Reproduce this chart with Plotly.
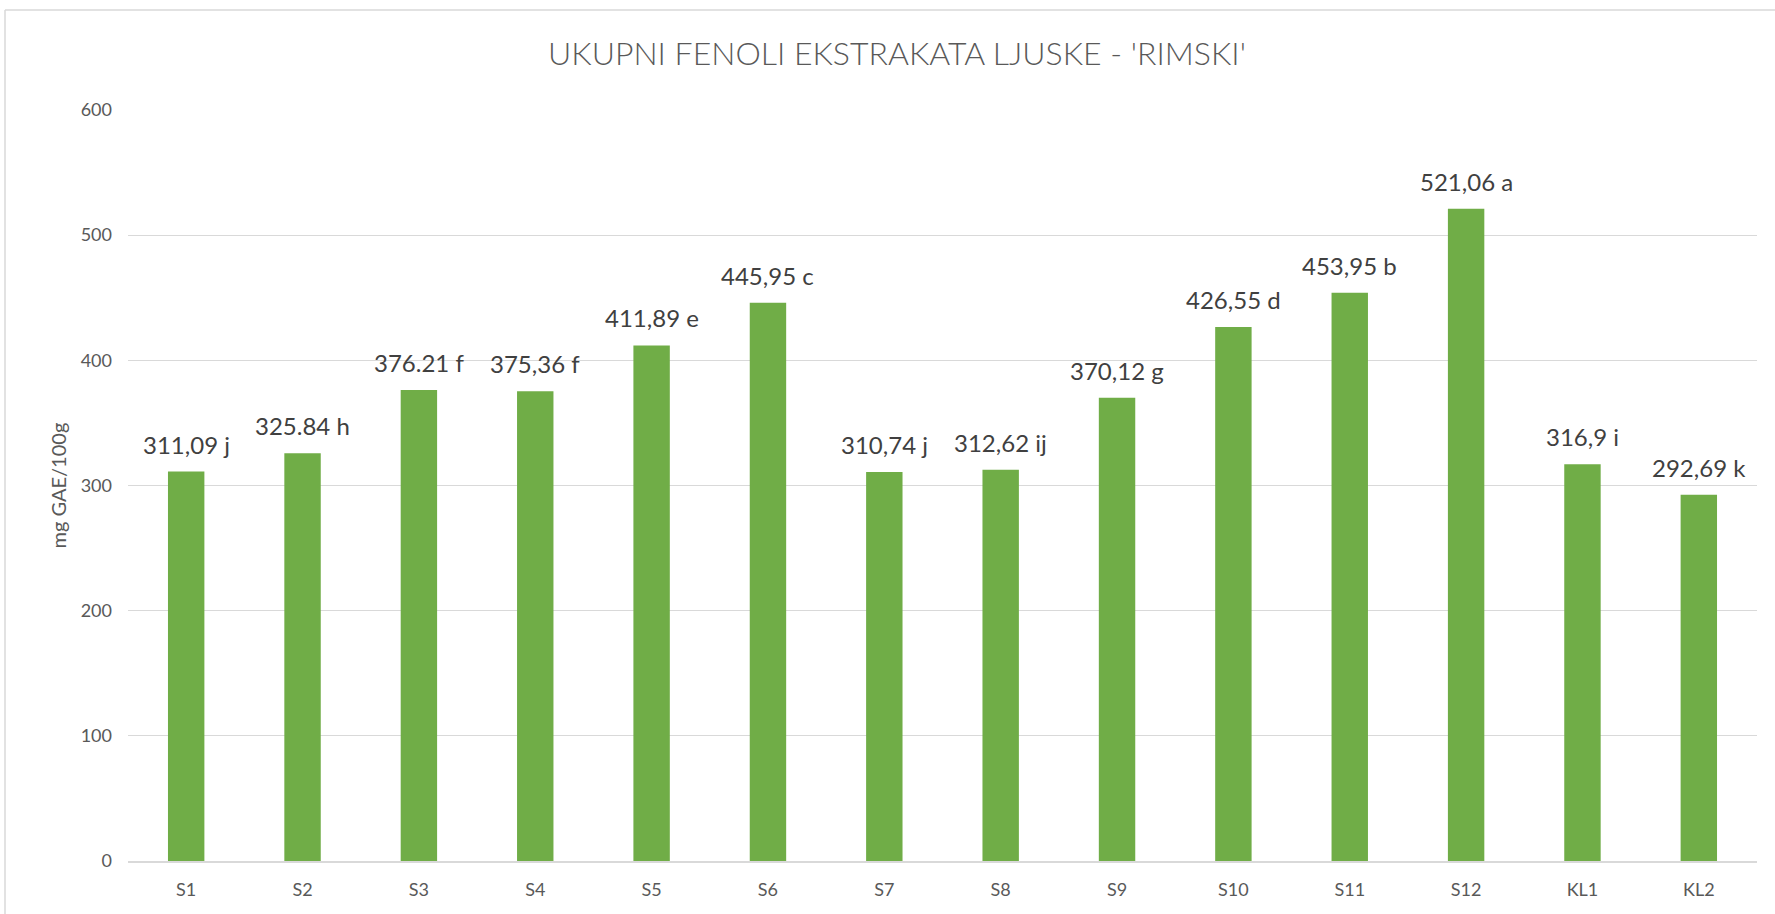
import plotly.graph_objects as go

categories = ["S1", "S2", "S3", "S4", "S5", "S6", "S7", "S8", "S9", "S10", "S11", "S12", "KL1", "KL2"]
values = [311.09, 325.84, 376.21, 375.36, 411.89, 445.95, 310.74, 312.62, 370.12, 426.55, 453.95, 521.06, 316.9, 292.69]
labels = ["311,09 j", "325.84 h", "376.21 f", "375,36 f", "411,89 e", "445,95 c", "310,74 j",
          "312,62 ij", "370,12 g", "426,55 d", "453,95 b", "521,06 a", "316,9 i", "292,69 k"]
y_ticks = [0, 100, 200, 300, 400, 500, 600]

FONT = "Lato"

fig = go.Figure(go.Bar(
    x=categories, y=values,
    marker=dict(color="#70AD47", line=dict(width=0)),
    hoverinfo="x+y",
))

W, H = 1775, 914
L, R, T, B = 128, 18, 110, 53
pw, ph = W - L - R, H - T - B

value_labels = [dict(x=c, y=v, text=t, xref="x", yref="y", showarrow=False,
                     xanchor="center", yanchor="bottom", yshift=11,
                     font=dict(family=FONT, size=24, color="#404040"))
                for c, v, t in zip(categories, values, labels)]

fig.update_layout(
    width=W, height=H,
    margin=dict(l=L, r=R, t=T, b=B),
    paper_bgcolor="white", plot_bgcolor="white",
    showlegend=False,
    bargap=0.687,
    title=dict(text="UKUPNI FENOLI EKSTRAKATA LJUSKE - 'RIMSKI'",
               font=dict(family=FONT, size=32, color="#595959", weight=300),
               x=897 / W, xref="container", xanchor="center",
               y=1 - 54 / H, yref="container", yanchor="middle"),
    xaxis=dict(showgrid=False, showline=True, linecolor="#D9D9D9", linewidth=1.5,
               ticks="", tickfont=dict(family=FONT, size=18, color="#595959"),
               ticklabelstandoff=12),
    yaxis=dict(range=[0, 600], tickvals=y_ticks, showgrid=True, gridcolor="#D9D9D9",
               gridwidth=1, zeroline=False, showline=False, ticks="",
               tickfont=dict(family=FONT, size=18, color="#595959"),
               ticklabelstandoff=15),
    annotations=value_labels + [dict(text="mg GAE/100g", textangle=-90, showarrow=False,
                      xref="paper", yref="paper", x=(57 - L) / pw, y=0.5,
                      xanchor="center", yanchor="middle",
                      font=dict(family=FONT, size=20, color="#595959"))],
    shapes=[
        dict(type="line", xref="paper", yref="paper",
             x0=(5 - L) / pw, x1=(5 - L) / pw, y0=-0.2, y1=(H - B - 10) / ph,
             line=dict(color="#D9D9D9", width=1.5)),
        dict(type="line", xref="paper", yref="paper",
             x0=(5 - L) / pw, x1=1.2, y0=(H - B - 10) / ph, y1=(H - B - 10) / ph,
             line=dict(color="#D9D9D9", width=1.5)),
    ],
)

fig.write_html("out.html", config={"displayModeBar": False},
               post_script="document.body.style.margin='0';document.body.style.overflow='hidden';")
